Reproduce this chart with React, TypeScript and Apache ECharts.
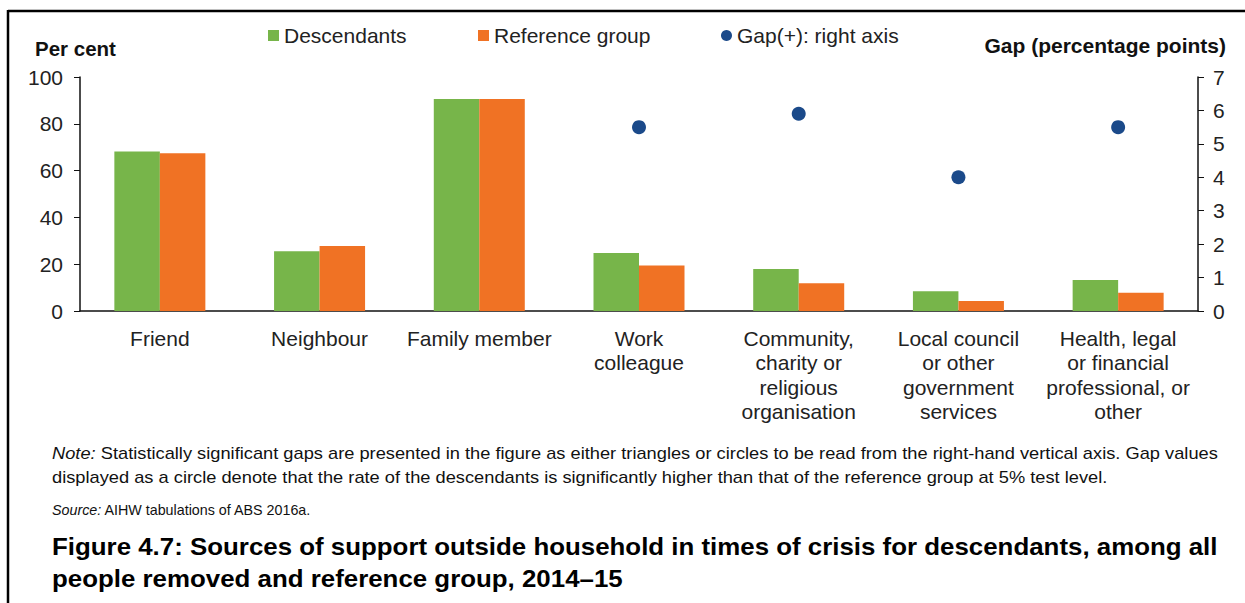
import React, { useEffect, useRef } from "react";
import * as echarts from "echarts";

const categories = [
  "Friend",
  "Neighbour",
  "Family member",
  "Work\ncolleague",
  "Community,\ncharity or\nreligious\norganisation",
  "Local council\nor other\ngovernment\nservices",
  "Health, legal\nor financial\nprofessional, or\nother",
];
const descendants = [68.2, 25.5, 90.6, 24.8, 17.9, 8.4, 13.2];
const referenceGroup = [67.4, 27.8, 90.6, 19.4, 11.9, 4.3, 7.8];
const gap: (number | string)[] = ["-", "-", "-", 5.5, 5.9, 4.0, 5.5];
const leftTicks = { min: 0, max: 100, interval: 20 };
const rightTicks = { min: 0, max: 7, interval: 1 };

const FONT = "'Liberation Sans', Arial, sans-serif";
const GREEN = "#77B54A";
const ORANGE = "#F07224";
const NAVY = "#1B4A8A";

export default function App() {
  const ref = useRef<HTMLDivElement>(null);
  useEffect(() => {
    if (!ref.current) return;
    const chart = echarts.init(ref.current, undefined, { renderer: "svg" });
    const axisLineStyle = { lineStyle: { color: "#111", width: 1.5 } };
    const legendBase = {
      top: 20,
      itemWidth: 11,
      itemHeight: 11,
      itemGap: 0,
      itemTextGap: 6,
      itemStyle: { borderWidth: 0 },
      textStyle: { fontSize: 21, color: "#222", fontFamily: FONT },
    };
    chart.setOption({
      animation: false,
      backgroundColor: "#fff",
      textStyle: { fontFamily: FONT },
      grid: { left: 80, right: 47, top: 77, bottom: 292 },
      legend: [
        { ...legendBase, left: 263, data: [{ name: "Descendants", icon: "rect" }] },
        { ...legendBase, left: 473, data: [{ name: "Reference group", icon: "rect" }] },
        { ...legendBase, left: 716, data: [{ name: "Gap(+): right axis", icon: "circle" }] },
      ],
      xAxis: {
        type: "category",
        data: categories,
        axisLine: axisLineStyle,
        axisTick: { show: false },
        axisLabel: {
          fontSize: 21,
          color: "#222",
          margin: 15,
          lineHeight: 24.5,
          interval: 0,
          fontFamily: FONT,
        },
      },
      yAxis: [
        {
          type: "value",
          ...leftTicks,
          axisLine: { show: true, ...axisLineStyle },
          axisTick: { show: true, length: 6, lineStyle: { color: "#111" } },
          splitLine: { show: false },
          axisLabel: { fontSize: 21, color: "#222", margin: 17, fontFamily: FONT },
        },
        {
          type: "value",
          ...rightTicks,
          position: "right",
          axisLine: { show: true, ...axisLineStyle },
          axisTick: { show: true, length: 6, lineStyle: { color: "#111" } },
          splitLine: { show: false },
          axisLabel: { fontSize: 21, color: "#222", margin: 15, fontFamily: FONT },
        },
      ],
      series: [
        {
          name: "Descendants",
          type: "bar",
          data: descendants,
          barWidth: 45.5,
          barGap: "0%",
          itemStyle: { color: GREEN },
        },
        {
          name: "Reference group",
          type: "bar",
          data: referenceGroup,
          barWidth: 45.5,
          barGap: "0%",
          itemStyle: { color: ORANGE },
        },
        {
          name: "Gap(+): right axis",
          type: "scatter",
          yAxisIndex: 1,
          data: gap,
          symbol: "circle",
          symbolSize: 14,
          itemStyle: { color: NAVY, opacity: 1 },
        },
      ],
      graphic: [
        {
          type: "line",
          shape: { x1: 8, y1: 11, x2: 1245, y2: 11 },
          style: { stroke: "#000", lineWidth: 2.5 },
        },
        {
          type: "line",
          shape: { x1: 8, y1: 10, x2: 8, y2: 603 },
          style: { stroke: "#000", lineWidth: 2.5 },
        },
        {
          type: "text",
          x: 35,
          y: 48,
          style: {
            text: "Per cent",
            font: `bold 20.5px ${FONT}`,
            fill: "#111",
            align: "left",
            verticalAlign: "middle",
          },
        },
        {
          type: "text",
          x: 1226,
          y: 45,
          style: {
            text: "Gap (percentage points)",
            font: `bold 21px ${FONT}`,
            fill: "#111",
            align: "right",
            verticalAlign: "middle",
          },
        },
        {
          type: "text",
          x: 52,
          y: 453,
          scaleX: 1.142,
          style: {
            text: "{i|Note:} Statistically significant gaps are presented in the figure as either triangles or circles to be read from the right-hand vertical axis. Gap values",
            font: `16px ${FONT}`,
            fill: "#111",
            align: "left",
            verticalAlign: "middle",
            rich: { i: { fontStyle: "italic", fontSize: 16, fontFamily: FONT } },
          },
        },
        {
          type: "text",
          x: 52,
          y: 477,
          scaleX: 1.142,
          style: {
            text: "displayed as a circle denote that the rate of the descendants is significantly higher than that of the reference group at 5% test level.",
            font: `16px ${FONT}`,
            fill: "#111",
            align: "left",
            verticalAlign: "middle",
          },
        },
        {
          type: "text",
          x: 52,
          y: 510,
          style: {
            text: "{i|Source:} AIHW tabulations of ABS 2016a.",
            font: `14.3px ${FONT}`,
            fill: "#111",
            align: "left",
            verticalAlign: "middle",
            rich: { i: { fontStyle: "italic", fontSize: 14.3, fontFamily: FONT } },
          },
        },
        {
          type: "text",
          x: 52,
          y: 547,
          scaleX: 1.125,
          style: {
            text: "Figure 4.7: Sources of support outside household in times of crisis for descendants, among all",
            font: `bold 23px ${FONT}`,
            fill: "#000",
            align: "left",
            verticalAlign: "middle",
          },
        },
        {
          type: "text",
          x: 52,
          y: 579,
          scaleX: 1.125,
          style: {
            text: "people removed and reference group, 2014–15",
            font: `bold 23px ${FONT}`,
            fill: "#000",
            align: "left",
            verticalAlign: "middle",
          },
        },
      ],
    });
    return () => chart.dispose();
  }, []);
  return (
    <div
      ref={ref}
      style={{ position: "fixed", left: 0, top: 0, width: 1245, height: 603 }}
    />
  );
}
